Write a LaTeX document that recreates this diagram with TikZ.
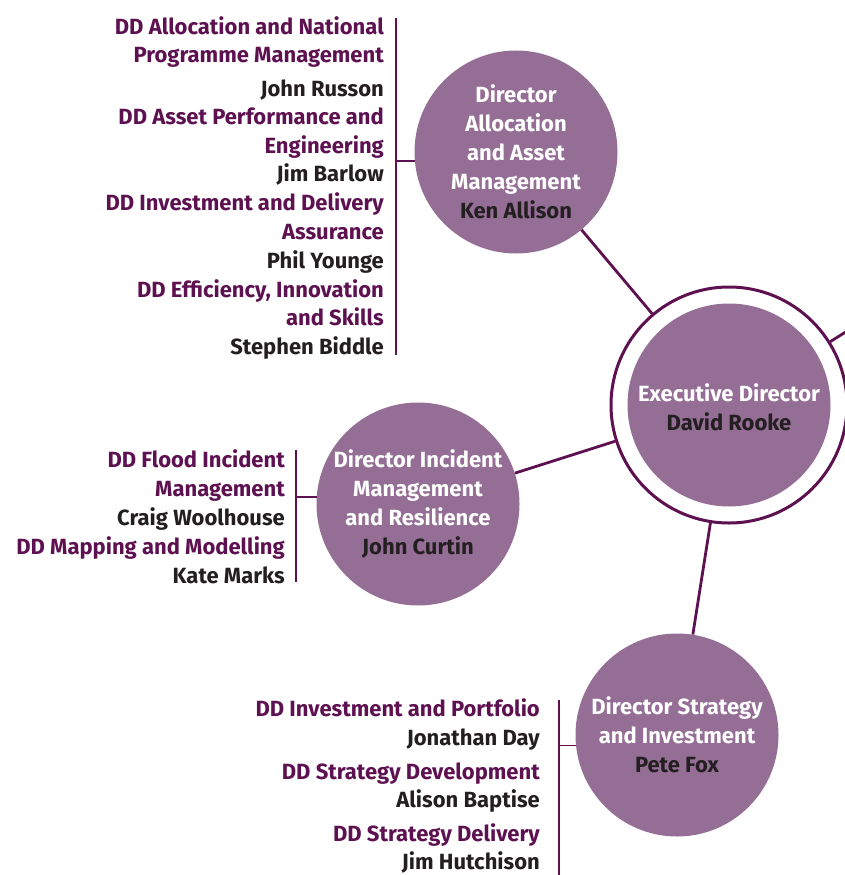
\documentclass[tikz,border=0pt]{standalone}
\usepackage{fontspec}
\setmainfont{Fira Sans}
\usepackage{tikz}
\usetikzlibrary{calc}
\definecolor{mauve}{HTML}{956E96}
\definecolor{plum}{HTML}{5E1150}
\definecolor{ink}{HTML}{231F20}
\tikzset{
	dirbubble/.style={circle, fill=mauve, minimum size=203pt, inner sep=0pt, align=center, text=white, font=\bfseries\fontsize{22}{29}\selectfont},
	ddrole/.style={anchor=base east, inner sep=0pt, text=plum, font=\bfseries\fontsize{22}{29}\selectfont},
	ddname/.style={ddrole, text=ink},
	link/.style={draw=plum, line width=2.8pt},
	bracket/.style={draw=plum, line width=1.5pt}
}
\begin{document}
\begin{tikzpicture}[x=1pt, y=-1pt]
				\useasboundingbox (0,0) rectangle (845,875);
				
				% directors
				\node (ring) at (729,405)[circle, draw = plum, line width = 3pt, fill = white, minimum size = 236pt]{};
				\node (exec) at (ring)[dirbubble]{\rule{0pt}{23pt}Executive Director\\\textcolor{ink}{David Rooke}};
				\node (alloc) at (516,152)[dirbubble]{Director\\Allocation\\and Asset\\Management\\\textcolor{ink}{Ken Allison}};
				\node (incid) at (418,504)[dirbubble]{Director Incident\\Management\\and Resilience\\\textcolor{ink}{John Curtin}};
				\node (strat) at (677,735)[dirbubble]{Director Strategy\\and Investment\\\textcolor{ink}{Pete Fox}};
				\coordinate (offpage) at (900,298);
				
				\draw[link] (ring)--(alloc);
				\draw[link] (ring)--(incid);
				\draw[link] (ring)--(strat);
				\draw[link] (ring)--(offpage);
				
				% allocation deputies
				\node (alloc-r1) at (384,34.5)[ddrole]{DD Allocation and National};
				\node (alloc-r2) at (384,62.5)[ddrole]{Programme Management};
				\node (alloc-n1) at (384,96.5)[ddname]{John Russon};
				\node (alloc-r3) at (384,124.5)[ddrole]{DD Asset Performance and};
				\node (alloc-r4) at (384,153.5)[ddrole]{Engineering};
				\node (alloc-n2) at (384,181.5)[ddname]{Jim Barlow};
				\node (alloc-r5) at (384,210.5)[ddrole]{DD Investment and Delivery};
				\node (alloc-r6) at (384,239.5)[ddrole]{Assurance};
				\node (alloc-n3) at (384,268.5)[ddname]{Phil Younge};
				\node (alloc-r7) at (384,297.5)[ddrole]{DD Efficiency, Innovation};
				\node (alloc-r8) at (384,325.5)[ddrole]{and Skills};
				\node (alloc-n4) at (384,354.5)[ddname]{Stephen Biddle};
				
				\coordinate (alloc-top) at (396,18);
				\coordinate (alloc-bot) at (396,355);
				\draw[bracket] (alloc-top)--(alloc-bot);
				\draw[bracket] (alloc.185)--(alloc.185 -| alloc-top);
				
				% incident deputies
				\node (incid-r1) at (285,467.5)[ddrole]{DD Flood Incident};
				\node (incid-r2) at (285,496.5)[ddrole]{Management};
				\node (incid-n1) at (285,525.5)[ddname]{Craig Woolhouse};
				\node (incid-r3) at (285,554.5)[ddrole]{DD Mapping and Modelling};
				\node (incid-n2) at (285,583.5)[ddname]{Kate Marks};
				
				\coordinate (incid-top) at (296,450);
				\coordinate (incid-bot) at (296,582);
				\draw[bracket] (incid-top)--(incid-bot);
				\draw[bracket] (incid.176)--(incid.176 -| incid-top);
				
				% strategy deputies
				\node (strat-r1) at (540,716.5)[ddrole]{DD Investment and Portfolio};
				\node (strat-n1) at (540,745.5)[ddname]{Jonathan Day};
				\node (strat-r2) at (540,779.5)[ddrole]{DD Strategy Development};
				\node (strat-n2) at (540,807.5)[ddname]{Alison Baptise};
				\node (strat-r3) at (540,841.5)[ddrole]{DD Strategy Delivery};
				\node (strat-n3) at (540,869.5)[ddname]{Jim Hutchison};
				
				\coordinate (strat-top) at (559,700);
				\coordinate (strat-bot) at (559,875);
				\draw[bracket] (strat-top)--(strat-bot);
				\draw[bracket] (strat.186)--(strat.186 -| strat-top);
			\end{tikzpicture}
\end{document}
